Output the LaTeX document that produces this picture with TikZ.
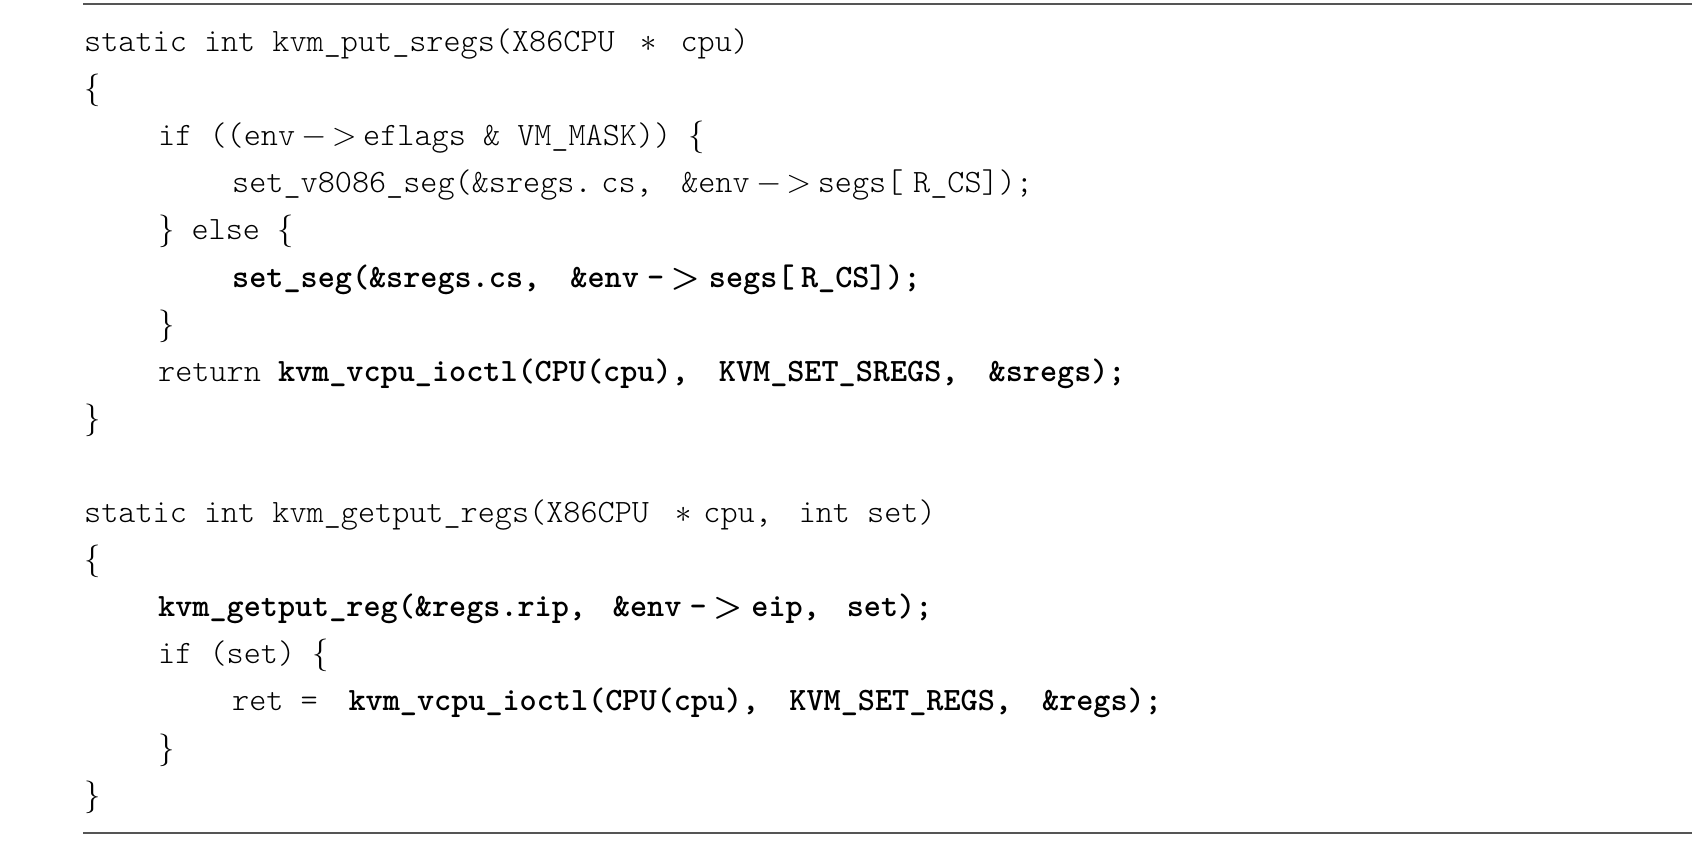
\RequirePackage{fix-cm}
\documentclass[tikz,border=0pt]{standalone}
\usepackage{fontspec}
\newfontfamily\codefont{lmmonolt10-regular.otf}[BoldFont=lmmonolt10-bold.otf]
\newfontfamily\gtbold{lmroman10-bold.otf}
\definecolor{rulegray}{HTML}{555555}
\newcommand\cptr{\hspace{0.2em}$-$\hspace{0.15em}$>$\hspace{0.2em}}
\newcommand\cbptr{\hspace{0.25em}-\hspace{0.2em}{\gtbold>}\hspace{0.28em}}
\newcommand\cast{\hspace{0.8em}$\ast$\hspace{0.37em}}
\newcommand\cgap[1]{\hspace{#1em}}
\tikzset{
  codeline/.style={anchor=base west, inner sep=0pt, font=\codefont\fontsize{32.6}{39}\selectfont},
  rulebar/.style={draw=rulegray, line width=2pt}
}
\begin{document}
\begin{tikzpicture}[x=1pt,y=-1pt]
\useasboundingbox (0,0) rectangle (1698,841);
\def\ba{51.5}\def\sp{47.1}
\coordinate (t0) at (83,4); \coordinate (t1) at (1692,4);
\coordinate (b0) at (83,833); \coordinate (b1) at (1692,833);
\draw[rulebar] (t0) -- (t1);
\draw[rulebar] (b0) -- (b1);
\node[codeline] (l0) at (84,{\ba+0*\sp}) {static int kvm\_put\_sregs(X86CPU\cast\cgap{0.35}cpu)};
\node[codeline] (l1) at (84,{\ba+1*\sp}) {$\{$};
\node[codeline] (l2) at (158,{\ba+2*\sp}) {if ((env\cptr eflags \& VM\_MASK)) $\{$};
\node[codeline] (l3) at (232,{\ba+3*\sp}) {set\_v8086\_seg(\&sregs.\cgap{0.3}cs, \cgap{0.35}\&env\cptr segs[\cgap{0.3}R\_CS]);};
\node[codeline] (l4) at (158,{\ba+4*\sp}) {$\}$ else $\{$};
\node[codeline] (l5) at (232,{\ba+5*\sp}) {\bfseries set\_seg(\&sregs.cs, \cgap{0.4}\&env\cbptr segs[\cgap{0.2}R\_CS]);};
\node[codeline] (l6) at (158,{\ba+6*\sp}) {$\}$};
\node[codeline] (l7) at (158,{\ba+7*\sp}) {return \textbf{kvm\_vcpu\_ioctl(CPU(cpu), \cgap{0.4}KVM\_SET\_SREGS, \cgap{0.4}\&sregs);}};
\node[codeline] (l8) at (84,{\ba+8*\sp}) {$\}$};
\node[codeline] (l10) at (84,{\ba+10*\sp}) {static int kvm\_getput\_regs(X86CPU\cast cpu, \cgap{0.3}int set)};
\node[codeline] (l11) at (84,{\ba+11*\sp}) {$\{$};
\node[codeline] (l12) at (158,{\ba+12*\sp}) {\bfseries kvm\_getput\_reg(\&regs.rip, \cgap{0.3}\&env\cbptr eip, \cgap{0.3}set);};
\node[codeline] (l13) at (158,{\ba+13*\sp}) {if (set) $\{$};
\node[codeline] (l14) at (232,{\ba+14*\sp}) {ret = \cgap{0.42}\textbf{kvm\_vcpu\_ioctl(CPU(cpu), \cgap{0.4}KVM\_SET\_REGS, \cgap{0.4}\&regs);}};
\node[codeline] (l15) at (158,{\ba+15*\sp}) {$\}$};
\node[codeline] (l16) at (84,{\ba+16*\sp}) {$\}$};
\end{tikzpicture}
\end{document}
